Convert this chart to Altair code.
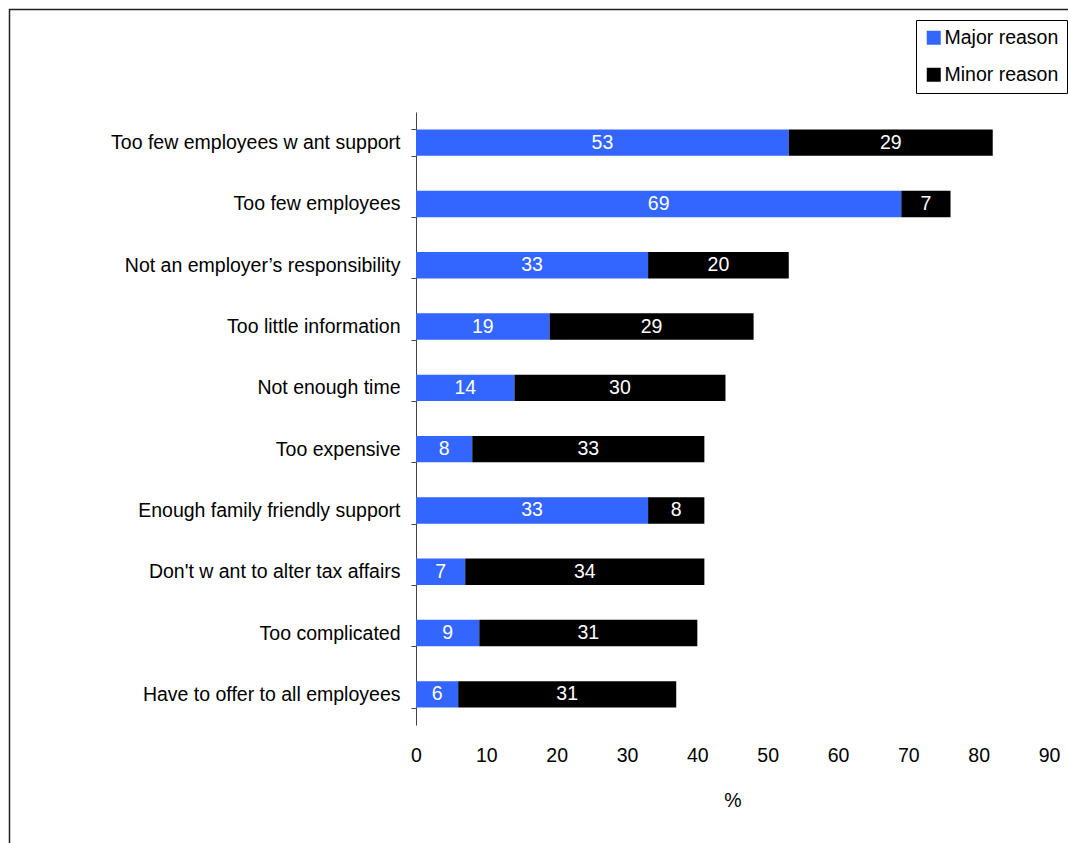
import altair as alt
import pandas as pd

categories = [
    "Too few  employees w ant support",
    "Too few  employees",
    "Not an employer\u2019s responsibility",
    "Too little information",
    "Not enough time",
    "Too expensive",
    "Enough family friendly support",
    "Don't w ant to alter tax affairs",
    "Too complicated",
    "Have to offer to all employees",
]
major = [53, 69, 33, 19, 14, 8, 33, 7, 9, 6]
minor = [29, 7, 20, 29, 30, 33, 8, 34, 31, 31]
series = ["Major reason", "Minor reason"]
x_ticks = [0, 10, 20, 30, 40, 50, 60, 70, 80, 90]

rows = []
for c, a, b in zip(categories, major, minor):
    rows.append({"cat": c, "series": series[0], "val": a, "ord": 0})
    rows.append({"cat": c, "series": series[1], "val": b, "ord": 1})
df = pd.DataFrame(rows)

FONT = "Liberation Sans"
FS = 19.5

base = alt.Chart(df).transform_stack(
    stack="val", groupby=["cat"], as_=["x0", "x1"], sort=[alt.SortField("ord")]
).transform_calculate(mid="(datum.x0 + datum.x1) / 2")

yenc = alt.Y(
    "cat:N",
    sort=categories,
    scale=alt.Scale(paddingInner=0.57, paddingOuter=0.285),
    axis=alt.Axis(
        title=None,
        tickBand="extent",
        tickSize=5,
        tickColor="#444444",
        domainColor="#444444",
        labelPadding=11,
        labelFontSize=FS,
        labelFont=FONT,
        labelColor="black",
        labelLimit=400,
    ),
)
xscale = alt.Scale(domain=[0, 90], nice=False)

bars = base.mark_bar().encode(
    x=alt.X(
        "x0:Q",
        scale=xscale,
        axis=alt.Axis(
            values=x_ticks,
            title="%",
            titleFont=FONT,
            titleFontSize=FS,
            titleFontWeight="normal",
            titleColor="black",
            titlePadding=27,
            labelFont=FONT,
            labelFontSize=FS,
            labelColor="black",
            labelPadding=21,
            labelFlush=False,
            domain=False,
            ticks=False,
            grid=False,
        ),
    ),
    x2="x1:Q",
    y=yenc,
    color=alt.Color(
        "series:N",
        scale=alt.Scale(domain=series, range=["#3366ff", "#000000"]),
        legend=alt.Legend(
            title=None,
            orient="none",
            legendX=500,
            legendY=-92,
            direction="vertical",
            strokeColor="black",
            fillColor="white",
            padding=8,
            symbolType="square",
            symbolSize=196,
            symbolStrokeWidth=0,
            labelFont=FONT,
            labelFontSize=FS,
            labelColor="black",
            labelOffset=1,
            rowPadding=16,
            labelLimit=300,
        ),
    ),
)

labels = base.mark_text(color="white", font=FONT, fontSize=FS).encode(
    x=alt.X("mid:Q", scale=xscale),
    y=alt.Y("cat:N", sort=categories),
    text="val:Q",
)

frame = alt.Chart(pd.DataFrame({"a": [0]})).mark_rect(
    fill=None, stroke="#222222", strokeWidth=1.5
).encode(
    x=alt.value(-406.5),
    x2=alt.value(800),
    y=alt.value(-102.5),
    y2=alt.value(900),
)

chart = alt.layer(frame, bars, labels).properties(
    width=633,
    height=613,
    autosize=alt.AutoSizeParams(type="none"),
    padding={"left": 416, "top": 112, "right": 19, "bottom": 118},
).configure_view(stroke=None)

chart.save("out.html", embed_options={"renderer": "svg", "actions": False})
